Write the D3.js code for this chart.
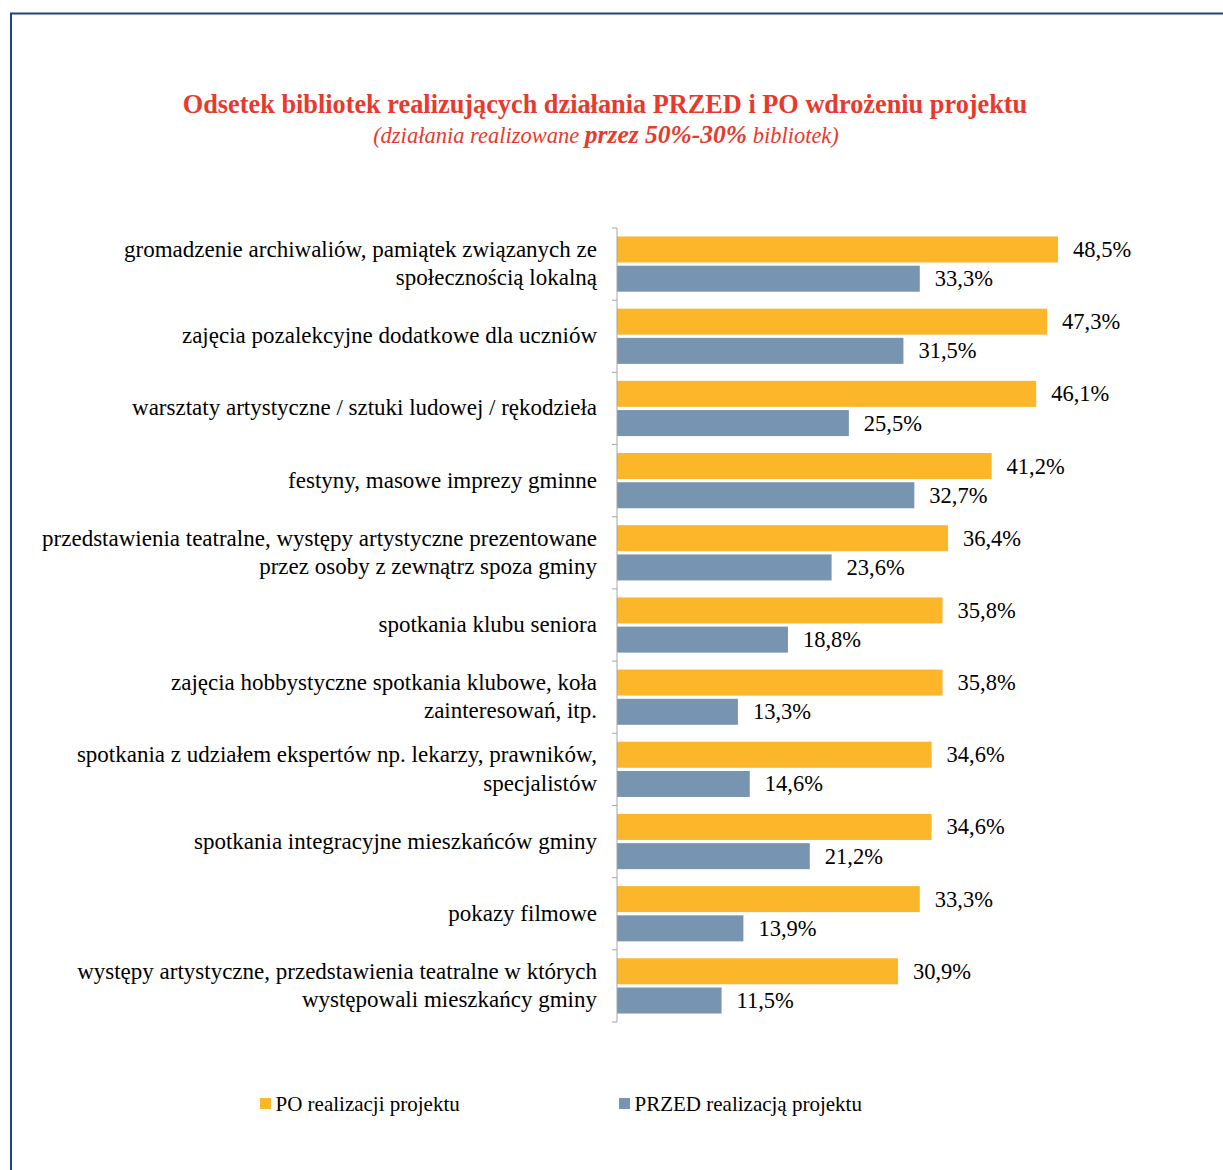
<!DOCTYPE html>
<html><head><meta charset="utf-8">
<script src="https://cdn.jsdelivr.net/npm/d3@7/dist/d3.min.js"></script>
<style>body{margin:0;background:#fff}svg{display:block}</style>
</head><body>
<script>
const categories = [
  "gromadzenie archiwaliów, pamiątek związanych ze\nspołecznością lokalną",
  "zajęcia pozalekcyjne dodatkowe dla uczniów",
  "warsztaty artystyczne / sztuki ludowej / rękodzieła",
  "festyny, masowe imprezy gminne",
  "przedstawienia teatralne, występy artystyczne prezentowane\nprzez osoby z zewnątrz spoza gminy",
  "spotkania klubu seniora",
  "zajęcia hobbystyczne spotkania klubowe, koła\nzainteresowań, itp.",
  "spotkania z udziałem ekspertów np. lekarzy, prawników,\nspecjalistów",
  "spotkania integracyjne mieszkańców gminy",
  "pokazy filmowe",
  "występy artystyczne, przedstawienia teatralne w których\nwystępowali mieszkańcy gminy"
];
const poValues = [48.5, 47.3, 46.1, 41.2, 36.4, 35.8, 35.8, 34.6, 34.6, 33.3, 30.9];
const przedValues = [33.3, 31.5, 25.5, 32.7, 23.6, 18.8, 13.3, 14.6, 21.2, 13.9, 11.5];
const seriesNames = ["PO realizacji projektu", "PRZED realizacją projektu"];
const seriesColors = ["#FBB629", "#7794B1"];
const titleText = "Odsetek bibliotek realizujących działania PRZED i PO wdrożeniu projektu";

const W = 1223, H = 1170;
const svg = d3.select("body").append("svg").attr("width", W).attr("height", H);
const serif = "'Liberation Serif', 'DejaVu Serif', serif";

// frame
svg.append("path").attr("d", `M11,${H} V13.5 H${W}`).attr("fill","none").attr("stroke","#1F4483").attr("stroke-width",2);

// title
svg.append("text").attr("x", 605).attr("y", 113).attr("text-anchor","middle")
  .attr("font-family", serif).attr("font-weight","bold").attr("font-size", 26.3)
  .attr("fill","#E83A2C").text(titleText);
const sub = svg.append("text").attr("x", 606).attr("y", 143).attr("text-anchor","middle")
  .attr("font-family", serif).attr("font-style","italic").attr("fill","#E83A2C");
sub.append("tspan").attr("font-size", 22.5).text("(działania realizowane ");
sub.append("tspan").attr("font-size", 25.5).attr("font-weight","bold").text("przez 50%-30%");
sub.append("tspan").attr("font-size", 22.5).text(" bibliotek)");

const x0 = 617, y0 = 228, y1 = 1022;
const x = d3.scaleLinear().domain([0, 48.5]).range([x0, 1058]);
const y = d3.scaleBand().domain(categories).range([y0, y1]).paddingInner(0).paddingOuter(0);
const sub_ = d3.scaleBand().domain([0,1]).range([0, y.bandwidth()]).paddingInner(0.11).paddingOuter(0.29);

const g = svg.append("g");
categories.forEach((c, i) => {
  const vals = [poValues[i], przedValues[i]];
  vals.forEach((v, s) => {
    const by = y(c) + sub_(s);
    g.append("rect").attr("x", x(0)).attr("y", by).attr("width", x(v) - x(0))
      .attr("height", sub_.bandwidth()).attr("fill", seriesColors[s]);
    g.append("text").attr("x", x(v) + 15).attr("y", by + sub_.bandwidth()/2 + 7.5)
      .attr("font-family", serif).attr("font-size", 22.5).attr("fill","#000")
      .text(v.toFixed(1).replace(".", ",") + "%");
  });
});

// axis
const axis = d3.axisLeft(y).tickSize(0).tickFormat("");
const ag = svg.append("g").attr("transform", `translate(${x0},0)`).call(axis);
ag.select(".domain").remove();
ag.append("line").attr("x1",0).attr("x2",0).attr("y1",y0).attr("y2",y1).attr("stroke","#A6A6A6").attr("stroke-width",1);
const bounds = categories.map(c => y(c)).concat([y1]);
ag.selectAll("line.bt").data(bounds).enter().append("line").attr("class","bt")
  .attr("x1",-5).attr("x2",0).attr("y1",d=>d).attr("y2",d=>d).attr("stroke","#A6A6A6");

// category labels
categories.forEach(c => {
  const lines = c.split("\n");
  const cy = y(c) + y.bandwidth()/2;
  const lh = 28.5;
  const t = svg.append("text").attr("text-anchor","end").attr("font-family", serif)
    .attr("font-size", 23).attr("fill","#000");
  lines.forEach((l, k) => {
    t.append("tspan").attr("x", 597).attr("y", cy + 7 + (k - (lines.length-1)/2) * lh).text(l);
  });
});

// legend
const lx = [260, 619];
seriesNames.forEach((n, s) => {
  svg.append("rect").attr("x", lx[s]).attr("y", 1098).attr("width", 11).attr("height", 11).attr("fill", seriesColors[s]);
  svg.append("text").attr("x", lx[s] + 15.5).attr("y", 1110.5).attr("font-family", serif)
    .attr("font-size", 21).attr("fill","#000").text(n);
});
</script>
</body></html>
